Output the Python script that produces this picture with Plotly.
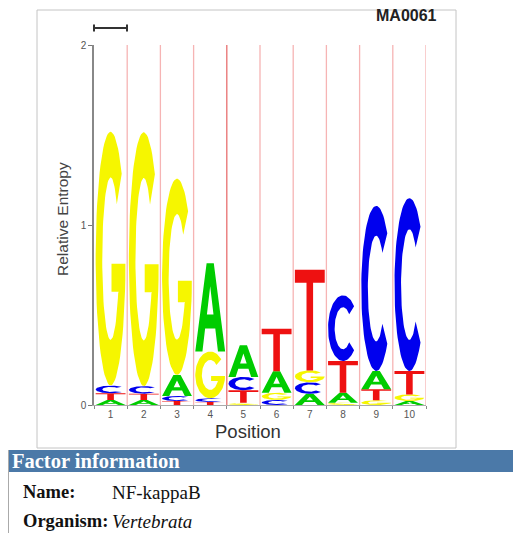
import numpy as np
import plotly.graph_objects as go

# ---------------- data ----------------
positions = [1, 2, 3, 4, 5, 6, 7, 8, 9, 10]
tick_labels = ["1", "2", "3", "4", "5", "6", "7", "8", "9", "10"]
height_A = [0.028, 0.028, 0.117, 0.49, 0.176, 0.12, 0.062, 0.055, 0.102, 0.022]
height_C = [0.043, 0.042, 0.028, 0.020, 0.074, 0.028, 0.064, 0.365, 0.917, 0.96]
height_G = [1.41, 1.41, 1.09, 0.26, 0.012, 0.04, 0.066, 0.013, 0.026, 0.037]
height_T = [0.037, 0.035, 0.022, 0.017, 0.07, 0.235, 0.56, 0.176, 0.061, 0.13]
y_ticks = [0, 1, 2]
matrix_id = "MA0061"
factor_name = "NF-kappaB"
organism = "Vertebrata"

letter_colors = {"A": "#00cc00", "C": "#0000ee", "G": "#f6f600", "T": "#ee1111"}


# ---------------- glyph outlines (unit box) ----------------
def arc(cx, cy, rx, ry, a0, a1, n=70):
    t = np.radians(np.linspace(a0, a1, n))
    return list(zip(cx + rx * np.cos(t), cy + ry * np.sin(t)))


def glyph(letter):
    if letter == "C":
        return arc(0.5, 0.5, 0.5, 0.5, 42, 318) + arc(0.5, 0.5, 0.28, 0.32, 318, 42)
    if letter == "G":
        outer = arc(0.5, 0.5, 0.5, 0.5, 42, 355)
        bar = [(0.995, 0.48), (0.53, 0.48), (0.53, 0.37), (0.77, 0.37)]
        inner = arc(0.5, 0.5, 0.28, 0.32, 335, 42)
        return outer + bar + inner
    if letter == "T":
        return [(0, 1), (1, 1), (1, 0.87), (0.61, 0.87), (0.61, 0),
                (0.39, 0), (0.39, 0.87), (0, 0.87)]
    # A with a keyhole-connected triangular counter
    return [(0.5, 0.26), (0.33, 0.26), (0.24, 0), (0, 0), (0.38, 1), (0.62, 1),
            (1, 0), (0.76, 0), (0.67, 0.26), (0.5, 0.26), (0.5, 0.42),
            (0.61, 0.42), (0.5, 0.74), (0.39, 0.42), (0.5, 0.42)]


fig = go.Figure()
pad = 0.05
heights = {"A": height_A, "C": height_C, "G": height_G, "T": height_T}
for i, p in enumerate(positions):
    stack = sorted(heights.keys(), key=lambda L: heights[L][i])
    base = 0.0
    for L in stack:
        h = heights[L][i]
        pts = glyph(L)
        xs = [p - 0.5 + pad + u * (1 - 2 * pad) for u, v in pts]
        ys = [base + v * h for u, v in pts]
        fig.add_trace(go.Scatter(
            x=xs + [xs[0]], y=ys + [ys[0]], mode="lines", fill="toself",
            fillcolor=letter_colors[L], line=dict(width=0, color=letter_colors[L]),
            hoverinfo="skip", showlegend=False))
        base += h

# ---------------- layout geometry ----------------
# page coordinates; the html body has an 8px margin, so the figure starts at (8, 8)
OFF = 8
W, H = 521 - OFF, 533 - OFF
L_PG, R_PG, T_PG, B_PG = 94, 426, 45, 405
L_PX, R_PX, T_PX, B_PX = L_PG - OFF, R_PG - OFF, T_PG - OFF, B_PG - OFF


def px(x):
    return (x - L_PG) / (R_PG - L_PG)


def py(y):
    return (B_PG - y) / (B_PG - T_PG)


shapes = []
# column separators
for p in positions:
    shapes.append(dict(type="line", xref="x", yref="y", x0=p + 0.5, x1=p + 0.5,
                       y0=0, y1=2, layer="below",
                       line=dict(color="#e87070" if p == 4 else "#f6b4b4", width=1.3)))
# outer frame
shapes.append(dict(type="rect", xref="paper", yref="paper", x0=px(37), x1=px(456),
                   y0=py(448), y1=py(10), line=dict(color="#c4c4c4", width=1)))
# scale bar
shapes.append(dict(type="line", xref="paper", yref="paper", x0=px(94), x1=px(127),
                   y0=py(28), y1=py(28), line=dict(color="#333", width=2)))
for xx in (94, 127):
    shapes.append(dict(type="line", xref="paper", yref="paper", x0=px(xx), x1=px(xx),
                       y0=py(24.5), y1=py(31.5), line=dict(color="#333", width=2)))
# factor information header
shapes.append(dict(type="rect", xref="paper", yref="paper", x0=px(9), x1=px(530),
                   y0=py(472), y1=py(450), fillcolor="#4b79a8", line=dict(width=0)))
shapes.append(dict(type="line", xref="paper", yref="paper", x0=px(8.5), x1=px(8.5),
                   y0=py(450), y1=py(540), line=dict(color="#aaaaaa", width=1)))

serif = "Liberation Serif, Times New Roman, serif"
sans = "Liberation Sans, Arial, sans-serif"
annotations = [
    dict(x=px(439), y=py(15), text="<b>" + matrix_id + "</b>", xanchor="right", yanchor="middle",
         font=dict(family=sans, size=16, color="#222")),
    dict(x=px(63), y=py(219), text="Relative Entropy", textangle=-90, xanchor="center",
         yanchor="middle", font=dict(family=sans, size=15.5, color="#444")),
    dict(x=px(248), y=py(431), text="Position", xanchor="center", yanchor="middle",
         font=dict(family=sans, size=18.5, color="#333")),
    dict(x=px(10), y=py(461), text="<b>Factor information</b>", xanchor="left", yanchor="middle",
         font=dict(family=serif, size=20.5, color="white")),
    dict(x=px(21), y=py(492), text="<b>Name:</b>", xanchor="left", yanchor="middle",
         font=dict(family=serif, size=18.5, color="#111")),
    dict(x=px(110), y=py(492), text=factor_name, xanchor="left", yanchor="middle",
         font=dict(family=serif, size=19, color="#111")),
    dict(x=px(21), y=py(521), text="<b>Organism:</b>", xanchor="left", yanchor="middle",
         font=dict(family=serif, size=18.5, color="#111")),
    dict(x=px(110), y=py(521), text="<i>" + organism + "</i>", xanchor="left", yanchor="middle",
         font=dict(family=serif, size=19, color="#111")),
]
for a in annotations:
    a.update(xref="paper", yref="paper", showarrow=False)

fig.update_layout(
    width=W, height=H, autosize=False,
    margin=dict(l=L_PX, r=W - R_PX, t=T_PX, b=H - B_PX, pad=0),
    paper_bgcolor="white", plot_bgcolor="white",
    shapes=shapes, annotations=annotations, showlegend=False,
    xaxis=dict(range=[0.5, 10.5], tickvals=positions, ticktext=tick_labels, ticks="",
               showgrid=False, zeroline=False, showline=True, linecolor="#aaaaaa",
               tickfont=dict(family=sans, size=10, color="#555"),
               minor=dict(tickmode="linear", tick0=0.5, dtick=1, ticks="outside",
                          ticklen=3, tickcolor="#888", showgrid=False),
               fixedrange=True),
    yaxis=dict(range=[0, 2], tickvals=y_ticks, ticktext=[str(v) for v in y_ticks],
               ticks="outside", ticklen=4, tickcolor="#777", showgrid=False, zeroline=False,
               showline=True, linecolor="#888", linewidth=1.5,
               tickfont=dict(family=sans, size=10, color="#555"), fixedrange=True),
)

fig.write_html("out.html")
